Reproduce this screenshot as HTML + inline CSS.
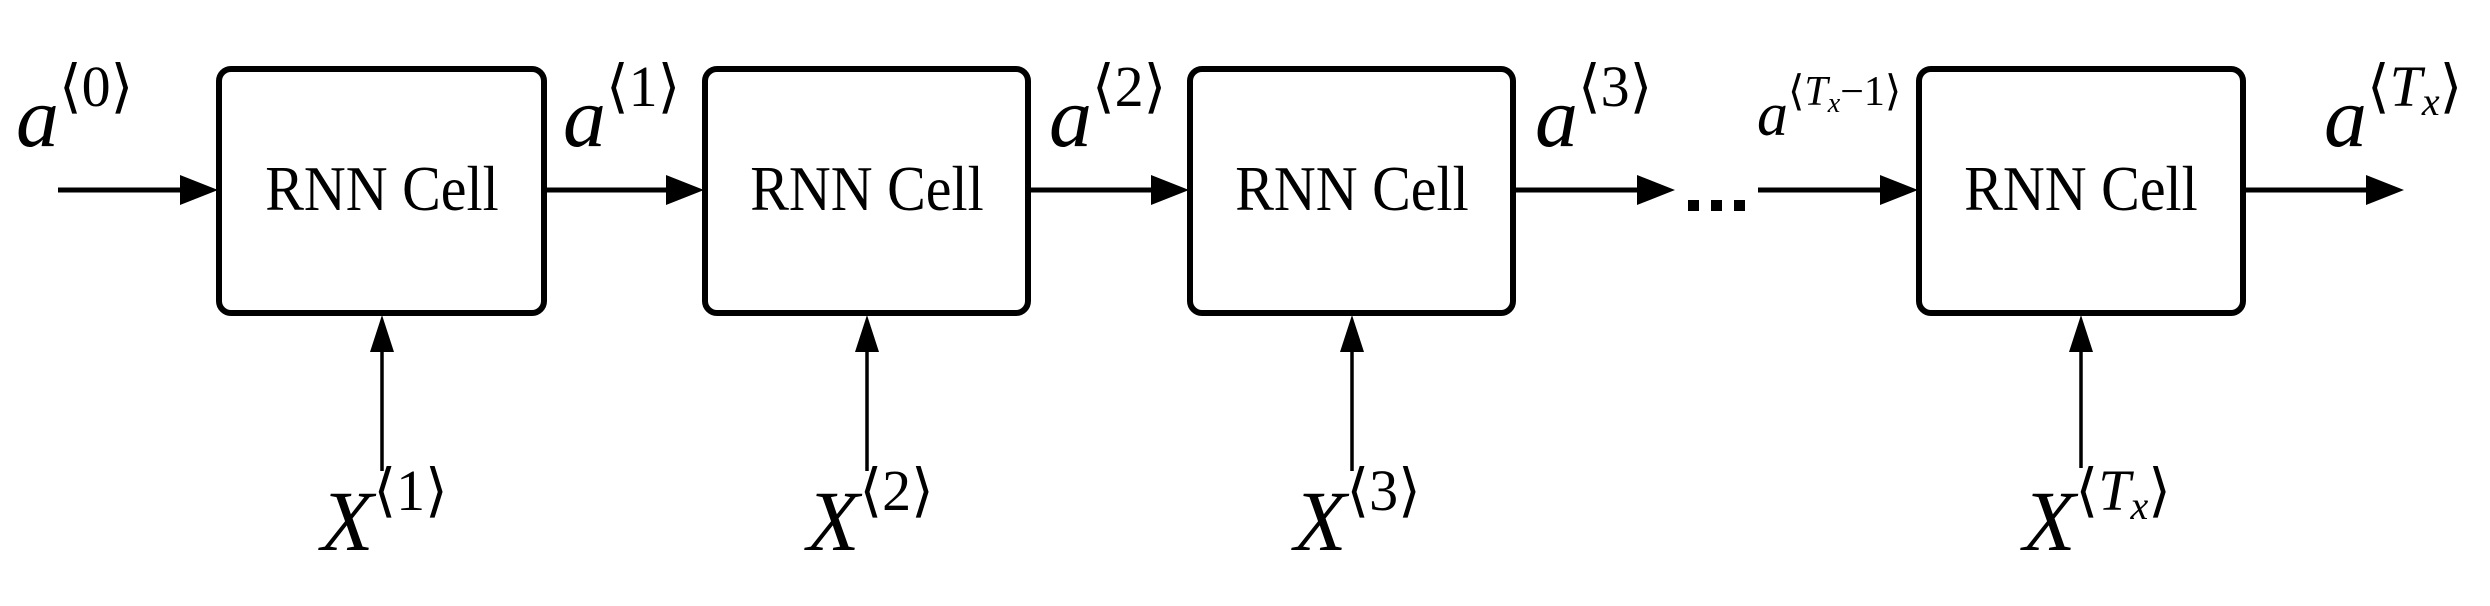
<!DOCTYPE html>
<html><head><style>html,body{margin:0;padding:0;background:#fff}</style></head>
<body>
<svg width="2490" height="601" viewBox="0 0 2490 601" xmlns="http://www.w3.org/2000/svg" font-family="Liberation Serif, serif">
<g fill="none" stroke="#000" stroke-width="6">
<rect x="219" y="69" width="325" height="244" rx="12"/>
<rect x="705" y="69" width="323" height="244" rx="12"/>
<rect x="1190" y="69" width="323" height="244" rx="12"/>
<rect x="1919" y="69" width="324" height="244" rx="12"/>
</g>
<g stroke="#000" stroke-width="5">
<line x1="58" y1="190" x2="185" y2="190"/>
<line x1="544" y1="190" x2="672" y2="190"/>
<line x1="1028" y1="190" x2="1157" y2="190"/>
<line x1="1513" y1="190" x2="1642" y2="190"/>
<line x1="1758" y1="190" x2="1886" y2="190"/>
<line x1="2243" y1="190" x2="2370" y2="190"/>
</g>
<g stroke="#000" stroke-width="3.5">
<line x1="382" y1="471" x2="382" y2="345"/>
<line x1="867" y1="471" x2="867" y2="345"/>
<line x1="1352" y1="471" x2="1352" y2="345"/>
<line x1="2081" y1="468" x2="2081" y2="345"/>
</g>
<g fill="#000">
<polygon points="218,190 180,175 180,205"/>
<polygon points="704,190 666,175 666,205"/>
<polygon points="1189,190 1151,175 1151,205"/>
<polygon points="1675,190 1637,175 1637,205"/>
<polygon points="1918,190 1880,175 1880,205"/>
<polygon points="2404,190 2366,175 2366,205"/>
<polygon points="382,315 370,352 394,352"/>
<polygon points="867,315 855,352 879,352"/>
<polygon points="1352,315 1340,352 1364,352"/>
<polygon points="2081,315 2069,352 2093,352"/>
<rect x="1688" y="200" width="11" height="11"/>
<rect x="1711" y="200" width="11" height="11"/>
<rect x="1734" y="200" width="11" height="11"/>
</g>
<g font-size="58" text-anchor="middle" fill="#000">
<text x="382" y="210" transform="translate(382 210) scale(1 1.1) translate(-382 -210)">RNN Cell</text>
<text x="867" y="210" transform="translate(867 210) scale(1 1.1) translate(-867 -210)">RNN Cell</text>
<text x="1352" y="210" transform="translate(1352 210) scale(1 1.1) translate(-1352 -210)">RNN Cell</text>
<text x="2081" y="210" transform="translate(2081 210) scale(1 1.1) translate(-2081 -210)">RNN Cell</text>
</g>
<g fill="#000" font-style="italic" font-size="86">
<text x="16" y="146">a<tspan font-style="normal" font-size="58" dy="-40">⟨0⟩</tspan></text>
<text x="563" y="146">a<tspan font-style="normal" font-size="58" dy="-40">⟨1⟩</tspan></text>
<text x="1049" y="146">a<tspan font-style="normal" font-size="58" dy="-40">⟨2⟩</tspan></text>
<text x="1535" y="146">a<tspan font-style="normal" font-size="58" dy="-40">⟨3⟩</tspan></text>
<text x="1757" y="135" font-size="62">a<tspan font-style="normal" font-size="42" dy="-30">⟨</tspan><tspan font-style="italic" font-size="42">T</tspan><tspan font-style="italic" font-size="28" dy="7">x</tspan><tspan font-style="normal" font-size="42" dy="-7">−1⟩</tspan></text>
<text x="2324" y="146">a<tspan font-style="normal" font-size="58" dy="-40">⟨</tspan><tspan font-size="58">T</tspan><tspan font-size="40" dy="9">x</tspan><tspan font-style="normal" font-size="58" dy="-9">⟩</tspan></text>
<text x="321" y="550">X<tspan font-style="normal" font-size="58" dy="-40">⟨1⟩</tspan></text>
<text x="807" y="550">X<tspan font-style="normal" font-size="58" dy="-40">⟨2⟩</tspan></text>
<text x="1294" y="550">X<tspan font-style="normal" font-size="58" dy="-40">⟨3⟩</tspan></text>
<text x="2023" y="550">X<tspan font-style="normal" font-size="58" dy="-40">⟨</tspan><tspan font-size="58">T</tspan><tspan font-size="40" dy="9">x</tspan><tspan font-style="normal" font-size="58" dy="-9">⟩</tspan></text>
</g>
</svg>
</body></html>
